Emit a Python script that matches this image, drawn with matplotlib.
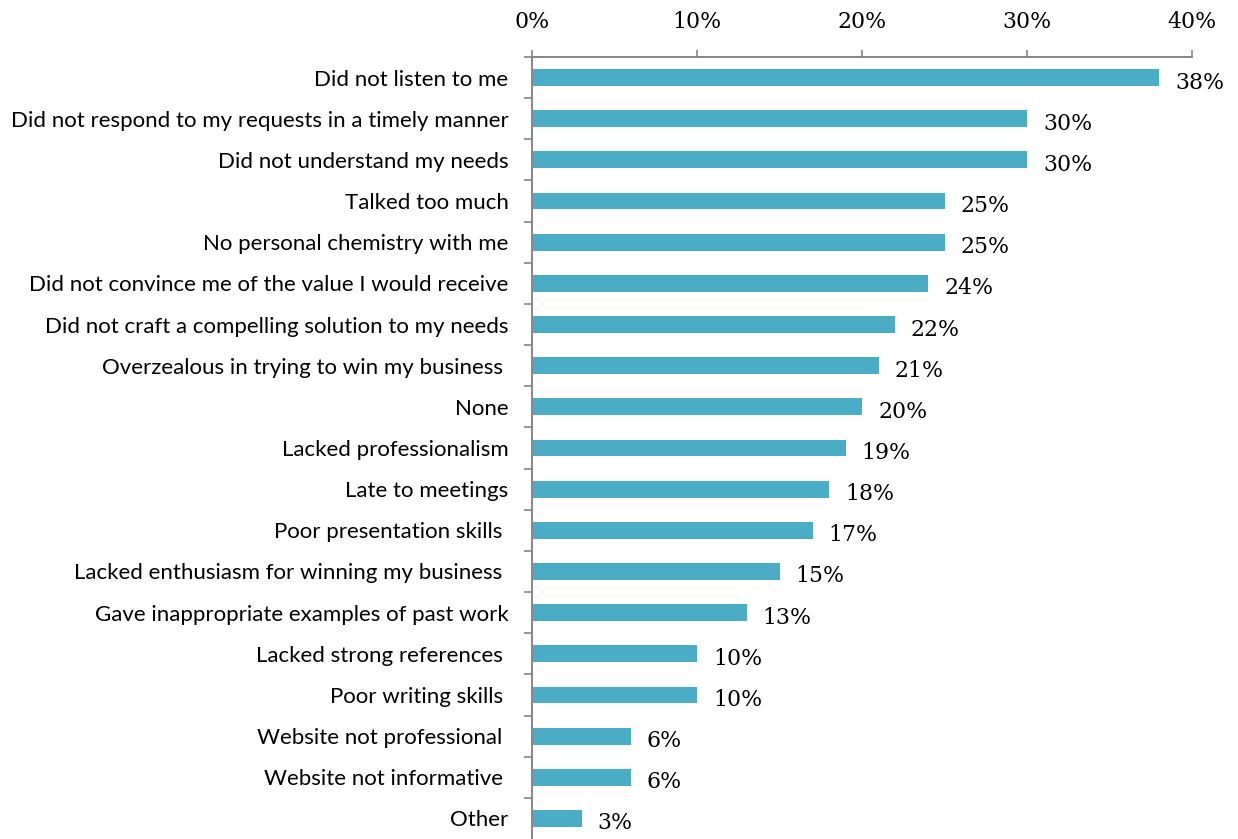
import matplotlib
matplotlib.use("Agg")
import matplotlib.pyplot as plt
from matplotlib.ticker import FuncFormatter

categories = [
    "Did not listen to me",
    "Did not respond to my requests in a timely manner",
    "Did not understand my needs",
    "Talked too much",
    "No personal chemistry with me",
    "Did not convince me of the value I would receive",
    "Did not craft a compelling solution to my needs",
    "Overzealous in trying to win my business ",
    "None",
    "Lacked professionalism",
    "Late to meetings",
    "Poor presentation skills ",
    "Lacked enthusiasm for winning my business ",
    "Gave inappropriate examples of past work",
    "Lacked strong references ",
    "Poor writing skills ",
    "Website not professional ",
    "Website not informative ",
    "Other",
]
values = [38, 30, 30, 25, 25, 24, 22, 21, 20, 19, 18, 17, 15, 13, 10, 10, 6, 6, 3]
xticks = [0, 10, 20, 30, 40]

bar_color = "#4BACC6"
axis_color = "#868686"
label_font = ["Lato", "DejaVu Sans"]
num_font = ["DejaVu Serif"]

fig = plt.figure(figsize=(12.38, 8.39), dpi=100)
ax = fig.add_axes([532 / 1238, 0.0, 660 / 1238, 1 - 57 / 839])

n = len(categories)
ypos = list(range(n))
ax.barh(ypos, values, height=0.41, color=bar_color, zorder=2)

ax.set_xlim(0, 40)
ax.set_ylim(n - 0.5, -0.5)

ax.xaxis.tick_top()
ax.set_xticks(xticks)
ax.xaxis.set_major_formatter(FuncFormatter(lambda v, p: f"{v:.0f}%"))
for lab in ax.get_xticklabels():
    lab.set_fontfamily(num_font)
    lab.set_fontsize(15.8)
ax.tick_params(axis="x", direction="out", length=5, width=1.2, color=axis_color, pad=12, labelcolor="black")

ax.set_yticks(ypos)
ax.set_yticklabels(categories, fontfamily=label_font, fontsize=16)
ax.tick_params(axis="y", length=0, pad=17, labelcolor="black")
# boundary ticks on the left spine
ax.set_yticks([i + 0.5 for i in range(-1, n - 1)], minor=True)
ax.tick_params(axis="y", which="minor", direction="out", length=6, width=1.2, color=axis_color)

for s in ["right", "bottom"]:
    ax.spines[s].set_visible(False)
for s in ["top", "left"]:
    ax.spines[s].set_color(axis_color)
    ax.spines[s].set_linewidth(1.4)

for y, v in zip(ypos, values):
    ax.annotate(f"{v}%", xy=(v, y), xytext=(16, -5), textcoords="offset pixels",
                ha="left", va="center", fontfamily=num_font, fontsize=15.8, color="black")

fig.savefig("out.png", dpi=100)
